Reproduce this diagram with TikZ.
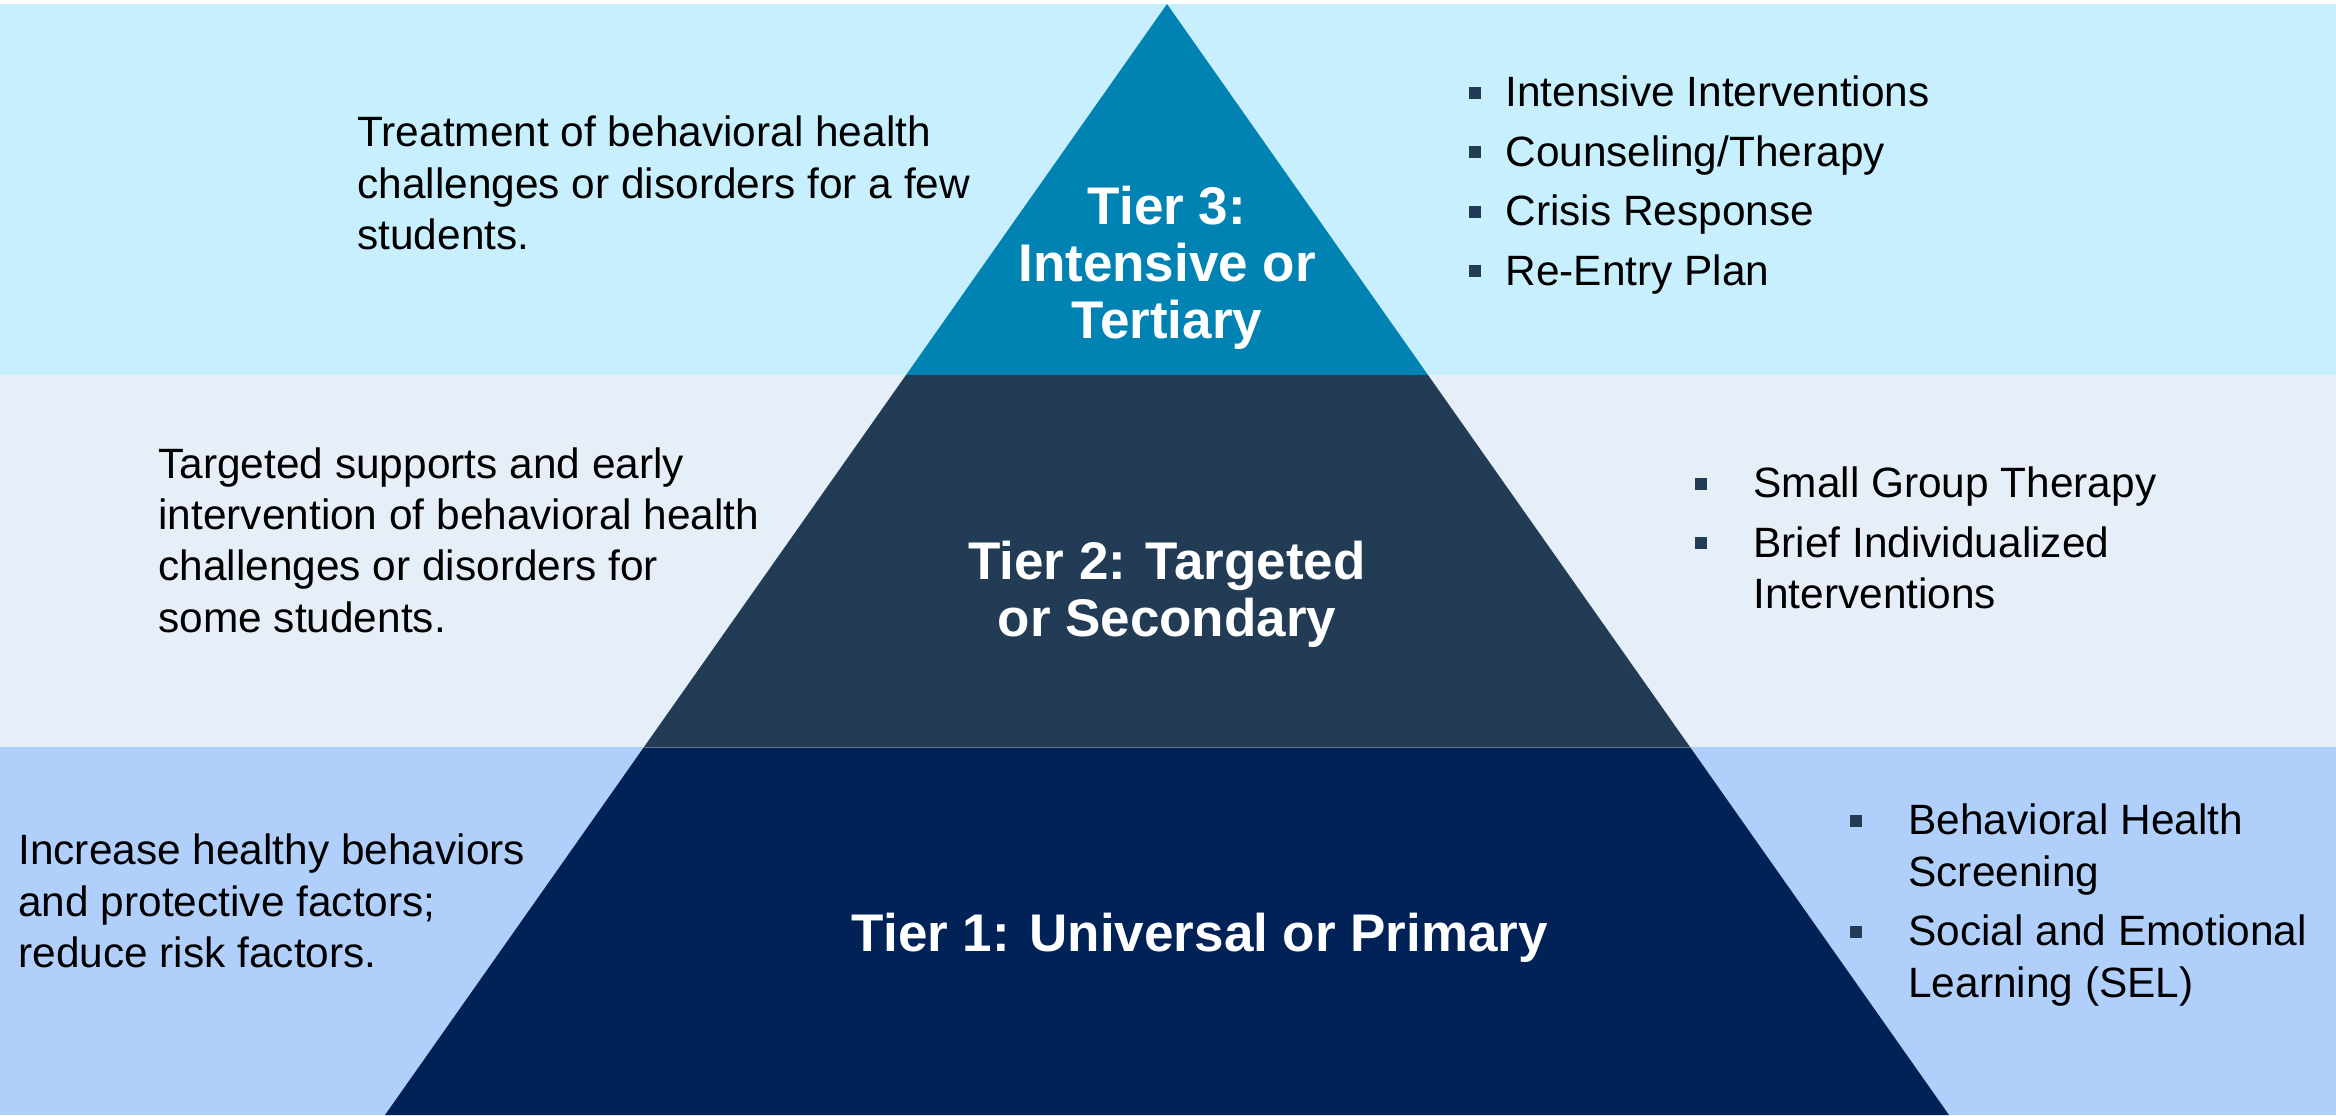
\documentclass[tikz,border=0pt]{standalone}
\usepackage{fontspec}
\setmainfont{Liberation Sans}
\definecolor{bandA}{HTML}{C8EFFD}
\definecolor{bandB}{HTML}{E6EEF7}
\definecolor{bandC}{HTML}{B0CFFB}
\definecolor{tierA}{HTML}{0083B3}
\definecolor{tierB}{HTML}{233C56}
\definecolor{tierC}{HTML}{002256}
\definecolor{bulc}{HTML}{233C56}
\newcommand{\sqb}[1]{\llap{\textcolor{bulc}{\rule[4pt]{6pt}{6pt}}\hspace{#1}}}
\begin{document}
\begin{tikzpicture}[x=0.5pt,y=-0.5pt,
  body/.style={font=\fontsize{21.2}{25.7}\selectfont, align=left, anchor=west, inner sep=0pt, text=black},
  tierlab/.style={font=\fontsize{26.5}{28.5}\selectfont\bfseries, align=center, text=white, inner sep=0pt}]
\useasboundingbox (0,0) rectangle (2336,1115);
\fill[white] (0,0) rectangle (2336,1115);
\fill[bandA] (0,4) rectangle (2336,375);
\fill[bandB] (0,375) rectangle (2336,747);
\fill[bandC] (0,747) rectangle (2336,1115);
\fill[tierA] (1167,4) -- (1428,375) -- (906,375) -- cycle;
\fill[tierB] (906,375) -- (1428,375) -- (1690,747) -- (644,747) -- cycle;
\fill[tierC] (644,747) -- (1690,747) -- (1949,1115) -- (385,1115) -- cycle;
\draw[tierB!70!white, line width=0.4pt] (644,747) -- (1690,747);

\node[tierlab] (t3) at (1167,268) {Tier 3:\\Intensive or\\Tertiary};
\node[tierlab] (t2) at (1167,594) {Tier 2: Targeted\\or Secondary};
\node[tierlab] (t1) at (1200,938) {Tier 1: Universal or Primary};

\node[body] (d3) at (357,183) {Treatment of behavioral health\\challenges or disorders for a few\\students.};
\node[body] (d2) at (158,540) {Targeted supports and early\\intervention of behavioral health\\challenges or disorders for\\some students.};
\node[body] (d1) at (18,901) {Increase healthy behaviors\\and protective factors;\\reduce risk factors.};

\node[body] (b3) at (1505,185) {\sqb{12pt}Intensive Interventions\\[4pt]\sqb{12pt}Counseling/Therapy\\[4pt]\sqb{12pt}Crisis Response\\[4pt]\sqb{12pt}Re-Entry Plan};
\node[body] (b2) at (1753,538) {\sqb{23pt}Small Group Therapy\\[4pt]\sqb{23pt}Brief Individualized\\Interventions};
\node[body] (b1) at (1908,905) {\sqb{23pt}Behavioral Health\\Screening\\[4pt]\sqb{23pt}Social and Emotional\\Learning (SEL)};
\end{tikzpicture}
\end{document}
